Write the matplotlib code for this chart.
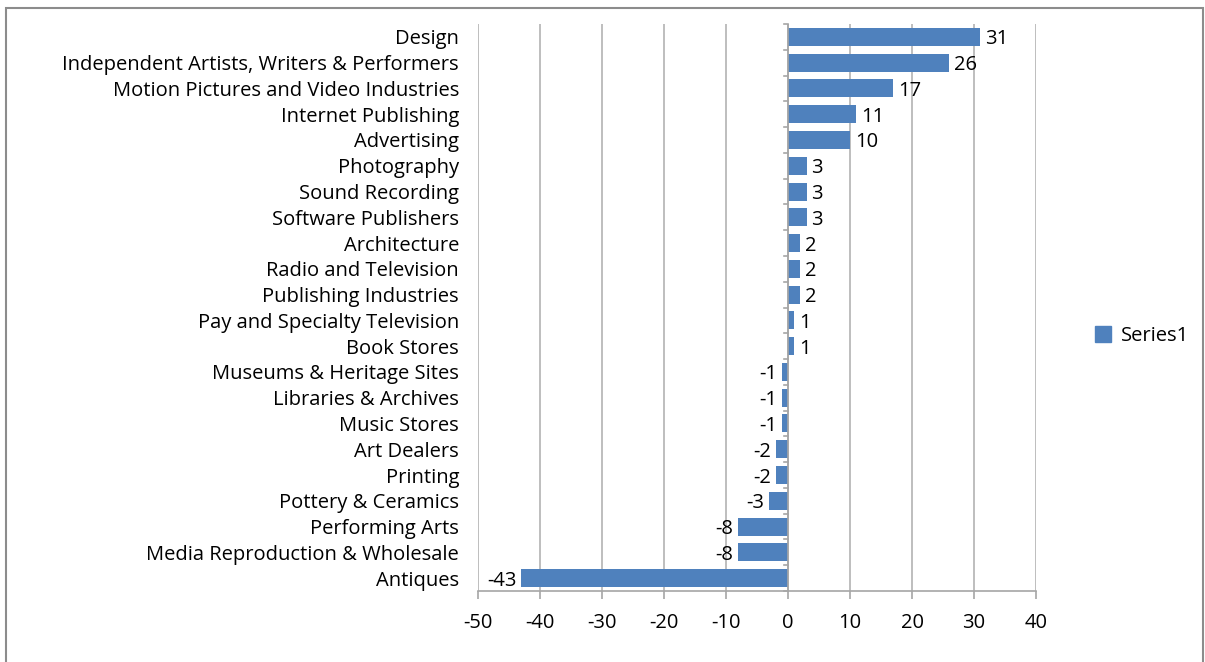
import matplotlib.pyplot as plt
from matplotlib.patches import Rectangle

categories = [
    "Design",
    "Independent Artists, Writers & Performers",
    "Motion Pictures and Video Industries",
    "Internet Publishing",
    "Advertising",
    "Photography",
    "Sound Recording",
    "Software Publishers",
    "Architecture",
    "Radio and Television",
    "Publishing Industries",
    "Pay and Specialty Television",
    "Book Stores",
    "Museums & Heritage Sites",
    "Libraries & Archives",
    "Music Stores",
    "Art Dealers",
    "Printing",
    "Pottery & Ceramics",
    "Performing Arts",
    "Media Reproduction & Wholesale",
    "Antiques",
]
values = [31, 26, 17, 11, 10, 3, 3, 3, 2, 2, 2, 1, 1, -1, -1, -1, -2, -2, -3, -8, -8, -43]
x_ticks = [-50, -40, -30, -20, -10, 0, 10, 20, 30, 40]

plt.rcParams['font.family'] = ['Open Sans', 'DejaVu Sans']
fs = 14.5

fig = plt.figure(figsize=(12.05, 6.62), dpi=100)
ax = fig.add_axes([478 / 1205, 1 - 591 / 662, (1036 - 478) / 1205, (591 - 24) / 662])

bar_color = '#4f81bd'
y_pos = list(range(len(categories)))
ax.barh(y_pos, values, height=0.7, color=bar_color, zorder=3, label='Series1')

ax.set_ylim(len(categories) - 0.5, -0.5)
ax.set_xlim(-50, 40)
ax.set_xticks(x_ticks)
ax.set_xticklabels([str(t) for t in x_ticks], fontsize=fs)
ax.xaxis.grid(True, color='#b3b3b3', linewidth=1.2, zorder=0)

for s in ['top', 'right', 'left']:
    ax.spines[s].set_visible(False)
ax.spines['bottom'].set_color('#a6a6a6')
ax.spines['bottom'].set_linewidth(1.2)
ax.tick_params(axis='x', length=6, width=1.2, color='#a6a6a6', pad=10)

# category labels (axis at x=0, labels at left of plot)
ax.set_yticks([])
for i, c in enumerate(categories):
    ax.text(-0.034, i, c, transform=ax.get_yaxis_transform(), ha='right', va='center_baseline', fontsize=fs)

# vertical axis at zero with boundary ticks
ax.axvline(0, color='#a6a6a6', linewidth=1.2, zorder=4)
for b in range(len(categories) + 1):
    ax.plot([-0.7, 0], [b - 0.5, b - 0.5], color='#a6a6a6', linewidth=1.2, zorder=4, clip_on=False)

for i, v in enumerate(values):
    if v >= 0:
        ax.text(v + 0.8, i, str(v), ha='left', va='center_baseline', fontsize=fs, zorder=5)
    else:
        ax.text(v - 0.8, i, str(v), ha='right', va='center_baseline', fontsize=fs, zorder=5)

handle = Rectangle((0, 0), 1, 1, color=bar_color)
fig.legend([handle], ['Series1'], loc='center left', bbox_to_anchor=(1077 / 1205, 1 - 336 / 662),
           frameon=False, fontsize=fs, handlelength=0.8, handleheight=0.8, handletextpad=0.5)

fig.patches.append(Rectangle((6 / 1205, -0.05), (1203 - 6) / 1205, 1 - 8 / 662 + 0.05,
                             transform=fig.transFigure, fill=False, edgecolor='#8c8c8c', linewidth=1.5))

fig.savefig('out.png', dpi=100)
